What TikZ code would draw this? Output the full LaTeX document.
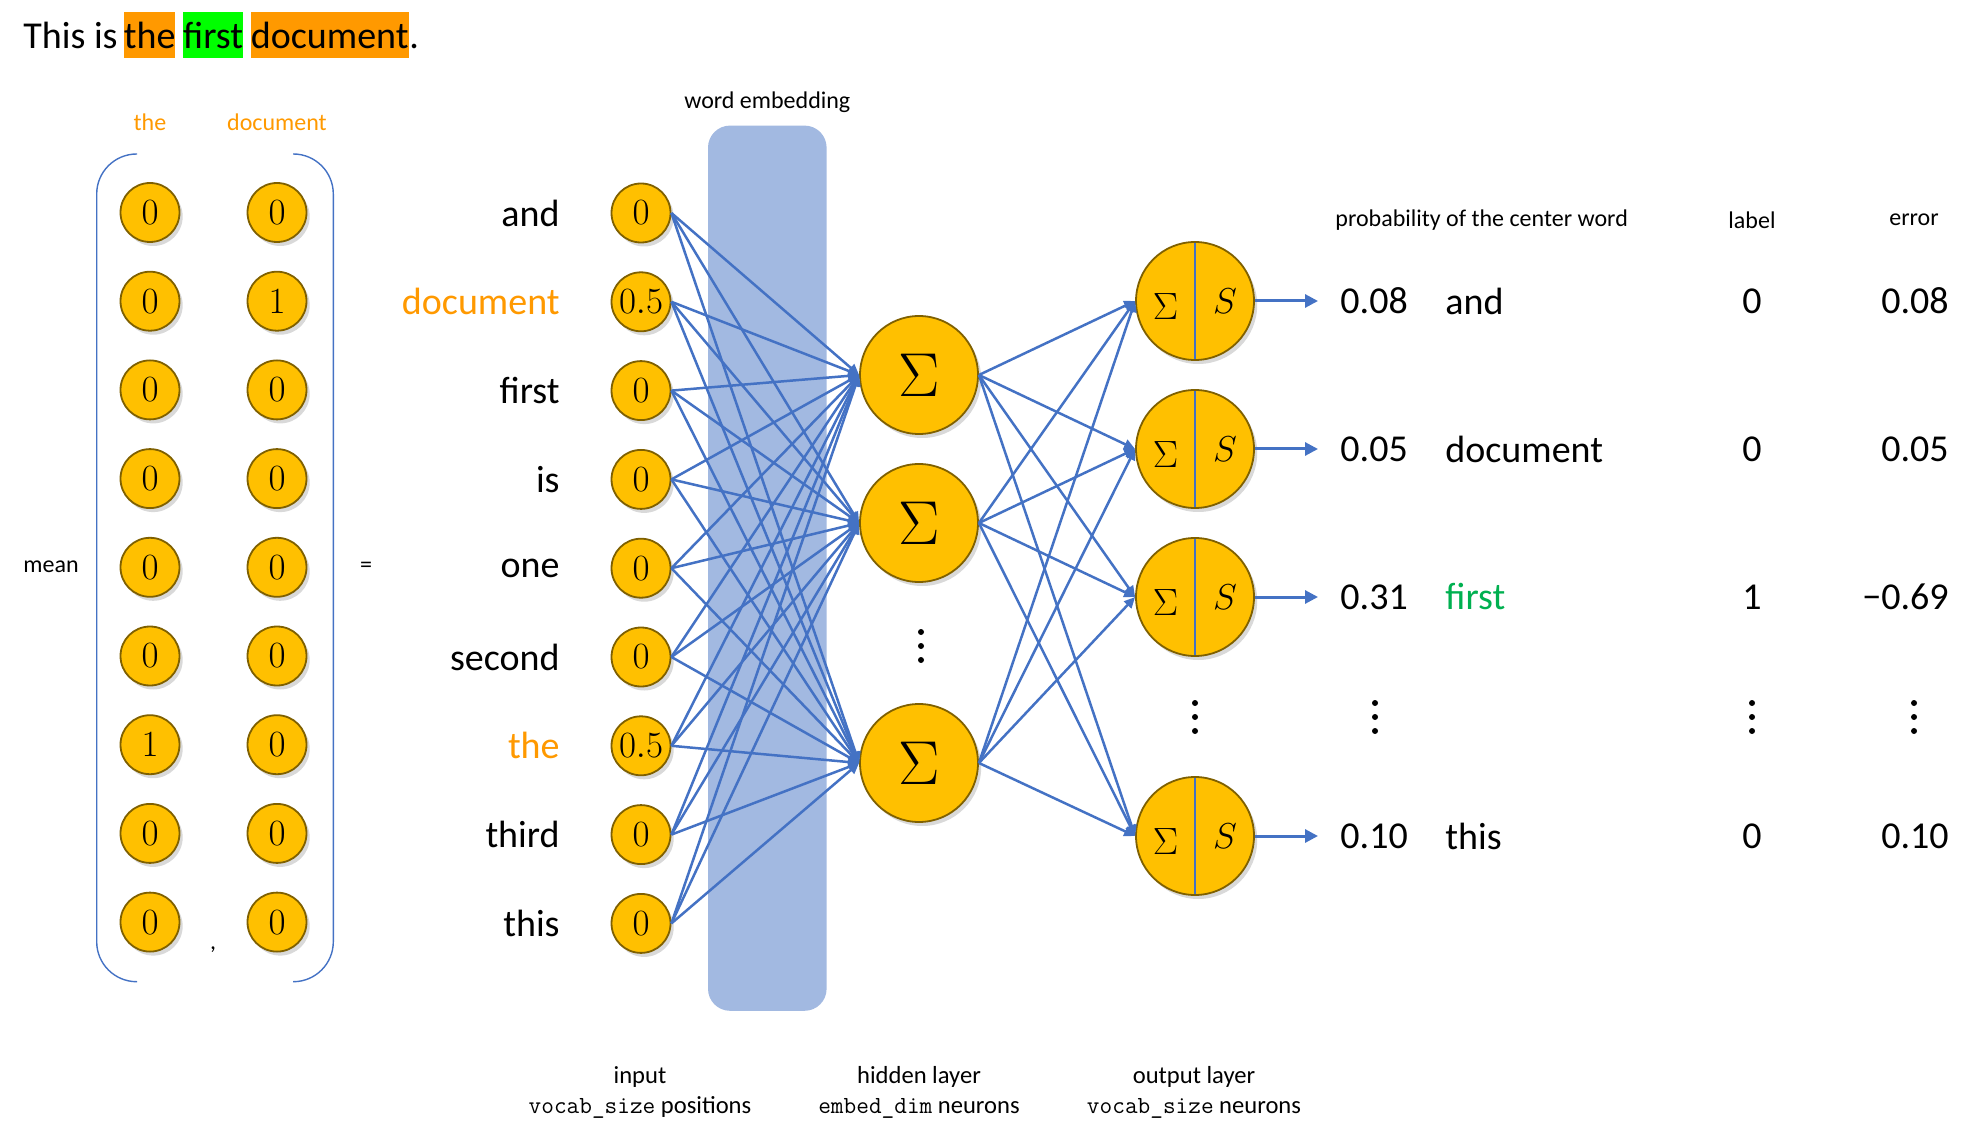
\RequirePackage{fix-cm}
\documentclass[tikz,border=0pt]{standalone}
\usepackage{fontspec}
\setmainfont{Carlito}
\usetikzlibrary{arrows.meta,positioning,shadows}
\definecolor{gold}{RGB}{255,192,0}
\definecolor{goldline}{RGB}{127,96,0}
\definecolor{edgeblue}{RGB}{68,114,196}
\definecolor{embfill}{RGB}{162,185,225}
\definecolor{orng}{RGB}{255,153,0}
\definecolor{hlgreen}{RGB}{0,255,0}
\definecolor{grn}{RGB}{0,176,80}
\newcommand{\fsz}[1]{\fontsize{#1}{#1}\selectfont}

\begin{document}
\begin{tikzpicture}[x=0.5pt, y=-0.5pt,
   neuron/.style={circle, draw=goldline, line width=0.9pt, fill=gold, inner sep=0pt,
                  minimum size=29.5pt, font=\fsz{18.5},
                  drop shadow={shadow xshift=1.6pt, shadow yshift=-2pt, opacity=0.3}},
   hid/.style={neuron, minimum size=59pt, font=\fsz{31}},
   outn/.style={neuron, minimum size=59pt, path picture={
                  \draw[edgeblue, line width=1.1pt] (path picture bounding box.north)
                     -- (path picture bounding box.south);}},
   embbox/.style={fill=embfill, rounded corners=11pt, minimum width=59.3pt,
                  minimum height=442.6pt, inner sep=0pt},
   word/.style={anchor=east, inner sep=0pt, font=\fsz{19}},
   small/.style={inner sep=0pt, font=\fsz{12}},
   foot/.style={inner sep=0pt, align=center, font=\fontsize{12.3}{15}\selectfont},
   big/.style={inner sep=0pt, font=\fsz{19}},
   prob/.style={big, anchor=west, inner xsep=11pt},
   hlt/.style={inner xsep=0pt, inner ysep=0pt, text height=18.3pt, text depth=4.6pt, font=\fsz{19}},
   dots/.style={fill=black, circle, minimum size=3pt, inner sep=0pt},
   fl/.style={-{Triangle[length=5.5pt, width=5pt]}, edgeblue, line width=1.25pt},
   flo/.style={-{Triangle[length=6.5pt, width=6.5pt]}, edgeblue, line width=1.5pt}]
  \useasboundingbox (0,0) rectangle (1969,1138);

  % sentence with context and center words
  \node[hlt, anchor=base west] (s0) at (23,49) {This is};
  \node[hlt, fill=orng, right=2.7pt of s0] (s1) {the};
  \node[hlt, fill=hlgreen, right=3.5pt of s1] (s2) {first};
  \node[hlt, fill=orng, right=3.5pt of s2] (s3) {document};
  \node[hlt, right=0pt of s3] (s4) {.};

  % one-hot vectors and their mean
  \node[small, text=orng] (lta) at (150,122) {the};
  \node[small, text=orng] (ltb) at (277,122) {document};
  \foreach \va/\vb [count=\k] in {0/0,0/1,0/0,0/0,0/0,0/0,1/0,0/0,0/0}{
    \pgfmathsetmacro\yy{212.5+88.7*(\k-1)}
    \node[neuron] (ma\k) at (150,\yy) {$\va$};
    \node[neuron] (mb\k) at (277,\yy) {$\vb$};
  }
  \draw[edgeblue, line width=0.7pt, rounded corners=20pt]
    (137,154) -- (96.7,154) -- (96.7,981.7) -- (137,981.7);
  \draw[edgeblue, line width=0.7pt, rounded corners=20pt]
    (293,154) -- (333.3,154) -- (333.3,981.7) -- (293,981.7);
  \node[small] (mean) at (51,567) {mean};
  \node[small] (eq) at (366,567) {=};
  \node[small] (cm) at (213,950) {,};

  % embedding band
  \node[embbox] (emb) at (767.3,568.2) {};
  \node[small, above=6pt of emb] (embl) {word embedding};

  % input layer
  \foreach \wrd/\cl/\vl [count=\k] in {and/black/0, document/orng/0.5, first/black/0,
      is/black/0, one/black/0, second/black/0, the/orng/0.5, third/black/0, this/black/0}{
    \pgfmathsetmacro\yy{213+88.8*(\k-1)}
    \node[neuron] (in\k) at (641,\yy) {$\vl$};
    \node[word, text=\cl] (w\k) at (560,\yy) {\wrd};
  }

  % hidden layer
  \foreach \yh [count=\j] in {375,523,763}
    \node[hid] (hd\j) at (919,\yh) {$\Sigma$};

  % output layer and table
  \node[small, anchor=west] (hp) at (1335,220) {probability of the center word};
  \node[small] (hl) at (1752,220) {label};
  \node[small] (he) at (1914,220) {error};
  \foreach \yo/\pr/\wrd/\cl/\lab/\err [count=\k] in {301/0.08/and/black/0/0.08,
      449/0.05/document/black/0/0.05, 597/0.31/first/grn/1/−0.69, 836/0.10/this/black/0/0.10}{
    \node[outn] (out\k) at (1195,\yo) {};
    \node[font=\fsz{19}, inner sep=0pt] (sg\k) at ([xshift=-14.7pt, yshift=-2.8pt]out\k.center) {$\Sigma$};
    \node[font=\fsz{18}, inner sep=0pt] (sm\k) at ([xshift=15pt]out\k.center) {$S$};
    \node[prob] (p\k) at (1318,\yo) {\pr};
    \node[big, anchor=west, text=\cl] (cw\k) at (1445,\yo) {\wrd};
    \node[big] (lb\k) at (1752,\yo) {\lab};
    \node[big, anchor=east] (er\k) at (1949,\yo) {\err};
    \draw[flo] (out\k) -- (p\k.west);
  }

  % vertical ellipses
  \foreach \xd/\yd in {921/646, 1195/717, 1375/717, 1752/717, 1914/717}
    \foreach \dd in {-14,0,14}
      \node[dots] at (\xd,\yd+\dd) {};

  % connections
  \foreach \i in {1,...,9}{\foreach \j in {1,2,3}{\draw[fl] (in\i.east) -- (hd\j.west);}}
  \foreach \j in {1,2,3}{\foreach \k in {1,...,4}{\draw[fl] (hd\j.east) -- (out\k.west);}}

  % layer captions
  \node[foot] (cin) at (640,1092) {input\\\texttt{vocab\_size} positions};
  \node[foot] (chd) at (919,1092) {hidden layer\\\texttt{embed\_dim} neurons};
  \node[foot] (cout) at (1194,1092) {output layer\\\texttt{vocab\_size} neurons};
\end{tikzpicture}
\end{document}
